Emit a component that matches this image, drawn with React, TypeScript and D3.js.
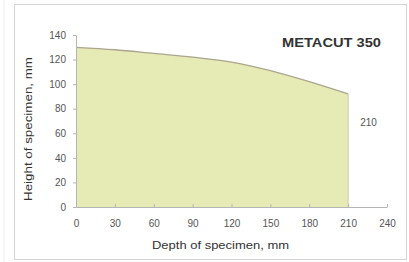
import { useEffect, useRef } from "react";
import * as d3 from "d3";

const depths = [0, 30, 60, 90, 120, 150, 180, 210];
const heights = [130, 128, 125, 122, 118, 111, 102, 92];
const xTicks = [0, 30, 60, 90, 120, 150, 180, 210, 240];
const yTicks = [0, 20, 40, 60, 80, 100, 120, 140];

const W = 409;
const H = 262;

export default function App() {
  const svgRef = useRef<SVGSVGElement | null>(null);

  useEffect(() => {
    if (!svgRef.current) return;
    const svg = d3.select(svgRef.current);
    svg.selectAll("*").remove();

    const font = "'Liberation Sans', Arial, sans-serif";
    const x = d3.scaleLinear().domain([0, 240]).range([76, 387]);
    const y = d3.scaleLinear().domain([0, 140]).range([207, 35]);

    // frame
    svg.append("rect").attr("width", W).attr("height", H).attr("fill", "#fff");
    svg.append("line").attr("x1", 4).attr("x2", 4).attr("y1", 0).attr("y2", H)
      .attr("stroke", "#eee");
    svg.append("rect")
      .attr("x", 14.5).attr("y", 4.5).attr("width", 392).attr("height", 255)
      .attr("fill", "none").attr("stroke", "#d4d4d4");

    const pts = depths.map((d, i) => [d, heights[i]] as [number, number]);

    const area = d3.area<[number, number]>()
      .x((d) => x(d[0]))
      .y0(y(0))
      .y1((d) => y(d[1]))
      .curve(d3.curveMonotoneX);
    svg.append("path").datum(pts).attr("d", area).attr("fill", "#e6ebb6");

    const line = d3.line<[number, number]>()
      .x((d) => x(d[0]))
      .y((d) => y(d[1]))
      .curve(d3.curveMonotoneX);
    svg.append("path").datum(pts).attr("d", line)
      .attr("fill", "none").attr("stroke", "#aaa58c").attr("stroke-width", 1.3);
    svg.append("line")
      .attr("x1", x(210)).attr("x2", x(210))
      .attr("y1", y(heights[heights.length - 1])).attr("y2", y(0))
      .attr("stroke", "#c9c9b0").attr("stroke-width", 1);

    // axes
    const gy = svg.append("g").attr("transform", `translate(${x(0)},0)`)
      .call(d3.axisLeft(y).tickValues(yTicks).tickSize(3).tickPadding(7).tickSizeOuter(0));
    const gx = svg.append("g").attr("transform", `translate(0,${y(0)})`)
      .call(d3.axisBottom(x).tickValues(xTicks).tickSize(3).tickPadding(10).tickSizeOuter(0));
    [gx, gy].forEach((g) => {
      g.select(".domain").attr("stroke", "#b5b5b5");
      g.selectAll(".tick line").attr("stroke", "#b5b5b5");
      g.selectAll(".tick text").attr("fill", "#555").attr("font-size", 10)
        .attr("font-family", font);
    });
    gx.selectAll(".tick line").attr("transform", "translate(0,-3)");

    svg.append("text")
      .attr("x", x(210) + 12).attr("y", 126)
      .attr("font-size", 10).attr("font-family", font).attr("fill", "#555")
      .text("210");

    svg.append("text")
      .attr("x", 282).attr("y", 47)
      .attr("font-size", 12).attr("font-weight", "bold").attr("font-family", font)
      .attr("fill", "#333").attr("textLength", 99).attr("lengthAdjust", "spacingAndGlyphs")
      .text("METACUT 350");

    svg.append("text")
      .attr("x", 152).attr("y", 249)
      .attr("font-size", 11).attr("font-family", font).attr("fill", "#333")
      .attr("textLength", 137).attr("lengthAdjust", "spacingAndGlyphs")
      .text("Depth of specimen, mm");

    svg.append("text")
      .attr("transform", `translate(32,201) rotate(-90)`)
      .attr("font-size", 11).attr("font-family", font).attr("fill", "#333")
      .attr("textLength", 144).attr("lengthAdjust", "spacingAndGlyphs")
      .text("Height of specimen, mm");
  }, []);

  return (
    <svg ref={svgRef} width={W} height={H}
      style={{ position: "absolute", left: 0, top: 0, display: "block" }} />
  );
}
